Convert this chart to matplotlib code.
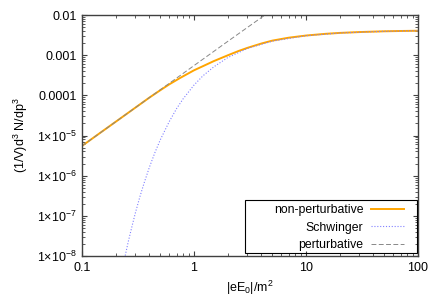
import matplotlib
matplotlib.use("Agg")
import matplotlib.pyplot as plt
from matplotlib.patches import Rectangle
from matplotlib.ticker import FixedLocator, LogLocator, NullFormatter

plt.rcParams["font.family"] = ["Liberation Sans", "DejaVu Sans"]
plt.rcParams["mathtext.fontset"] = "custom"
plt.rcParams["mathtext.rm"] = "Liberation Sans"
plt.rcParams["mathtext.it"] = "Liberation Sans:italic"

# values
nonpert_x = [0.1, 0.15, 0.2, 0.3, 0.4, 0.5, 0.6, 0.75, 1.0, 1.25, 1.5, 2.0, 2.5,
             3.0, 4.0, 5.0, 7.0, 10, 15, 20, 30, 50, 70, 100]
nonpert_y = [5.5e-6, 1.24e-5, 2.2e-5, 4.95e-5, 8.8e-5, 1.34e-4, 1.87e-4, 2.7e-4,
             4.2e-4, 5.6e-4, 7.1e-4, 9.9e-4, 1.27e-3, 1.52e-3, 1.95e-3, 2.3e-3,
             2.72e-3, 3.08e-3, 3.4e-3, 3.58e-3, 3.76e-3, 3.93e-3, 4.0e-3, 4.05e-3]

schw_x = [0.24, 0.26, 0.28, 0.3, 0.33, 0.36, 0.4, 0.45, 0.5, 0.6, 0.7, 0.8, 1.0,
          1.2, 1.5, 2.0, 3.0, 5.0, 10, 20, 50, 100]
schw_y = [8.7e-9, 2.4e-8, 5.6e-8, 1.2e-7, 3.1e-7, 6.8e-7, 1.63e-6, 3.9e-6, 7.8e-6,
          2.2e-5, 4.7e-5, 8.2e-5, 1.8e-4, 3.05e-4, 5.1e-4, 8.7e-4, 1.47e-3,
          2.23e-3, 3.05e-3, 3.57e-3, 3.93e-3, 4.05e-3]

pert_x = [0.1, 0.3, 1.0, 2.0, 4.3]
pert_y = [5.5e-6, 4.95e-5, 5.5e-4, 2.2e-3, 1.0e-2]

xticks = [0.1, 1, 10, 100]
xlabels = ["0.1", "1", "10", "100"]
yticks = [1e-8, 1e-7, 1e-6, 1e-5, 1e-4, 1e-3, 1e-2]
ylabels = ["1×10$^{-8}$", "1×10$^{-7}$", "1×10$^{-6}$", "1×10$^{-5}$",
           "0.0001", "0.001", "0.01"]

fig = plt.figure(figsize=(4.4, 3.08), dpi=100)
ax = fig.add_axes([82 / 440, 1 - 256 / 308, 336 / 440, 241 / 308])

ax.plot(nonpert_x, nonpert_y, color="#ffa500", lw=1.4, label="non-perturbative")
ax.plot(schw_x, schw_y, color="#8080ff", lw=0.8, linestyle=(0, (1, 1.6)),
        label="Schwinger")
ax.plot(pert_x, pert_y, color="#888888", lw=0.7, linestyle=(0, (5, 2.5)),
        label="perturbative")

ax.set_xscale("log")
ax.set_yscale("log")
ax.set_xlim(0.1, 100)
ax.set_ylim(1e-8, 1e-2)

ax.xaxis.set_major_locator(FixedLocator(xticks))
ax.set_xticklabels(xlabels)
ax.yaxis.set_major_locator(FixedLocator(yticks))
ax.set_yticklabels(ylabels)
ax.xaxis.set_minor_locator(LogLocator(base=10, subs=range(2, 10), numticks=20))
ax.yaxis.set_minor_locator(LogLocator(base=10, subs=range(2, 10), numticks=20))
ax.xaxis.set_minor_formatter(NullFormatter())
ax.yaxis.set_minor_formatter(NullFormatter())

ax.tick_params(which="both", direction="in", top=True, right=True,
               colors="#404040", labelcolor="black", labelsize=9)
ax.tick_params(which="major", length=3.8, width=0.8)
ax.tick_params(which="minor", length=2.2, width=0.6)
ax.tick_params(axis="x", pad=4.5)
ax.tick_params(axis="y", pad=3.5)
for s in ax.spines.values():
    s.set_color("#404040")
    s.set_linewidth(1.0)

ax.set_xlabel("|eE$_0$|/m$^2$", fontsize=9, labelpad=3)
ax.set_ylabel("(1/V)d$^3$ N/dp$^3$", fontsize=9, labelpad=5)

# legend frame drawn separately (gnuplot-style box)
ax.add_patch(Rectangle((0.485, 0.012), 0.512, 0.22, transform=ax.transAxes,
                       fill=False, edgecolor="black", lw=0.8, zorder=5))
ax.legend(loc="lower right", bbox_to_anchor=(0.957, 0.02), frameon=False,
          markerfirst=False, fontsize=8.8, handlelength=2.7, handletextpad=0.6,
          labelspacing=0.45, borderpad=0, borderaxespad=0)

fig.savefig("out.png", dpi=100)
